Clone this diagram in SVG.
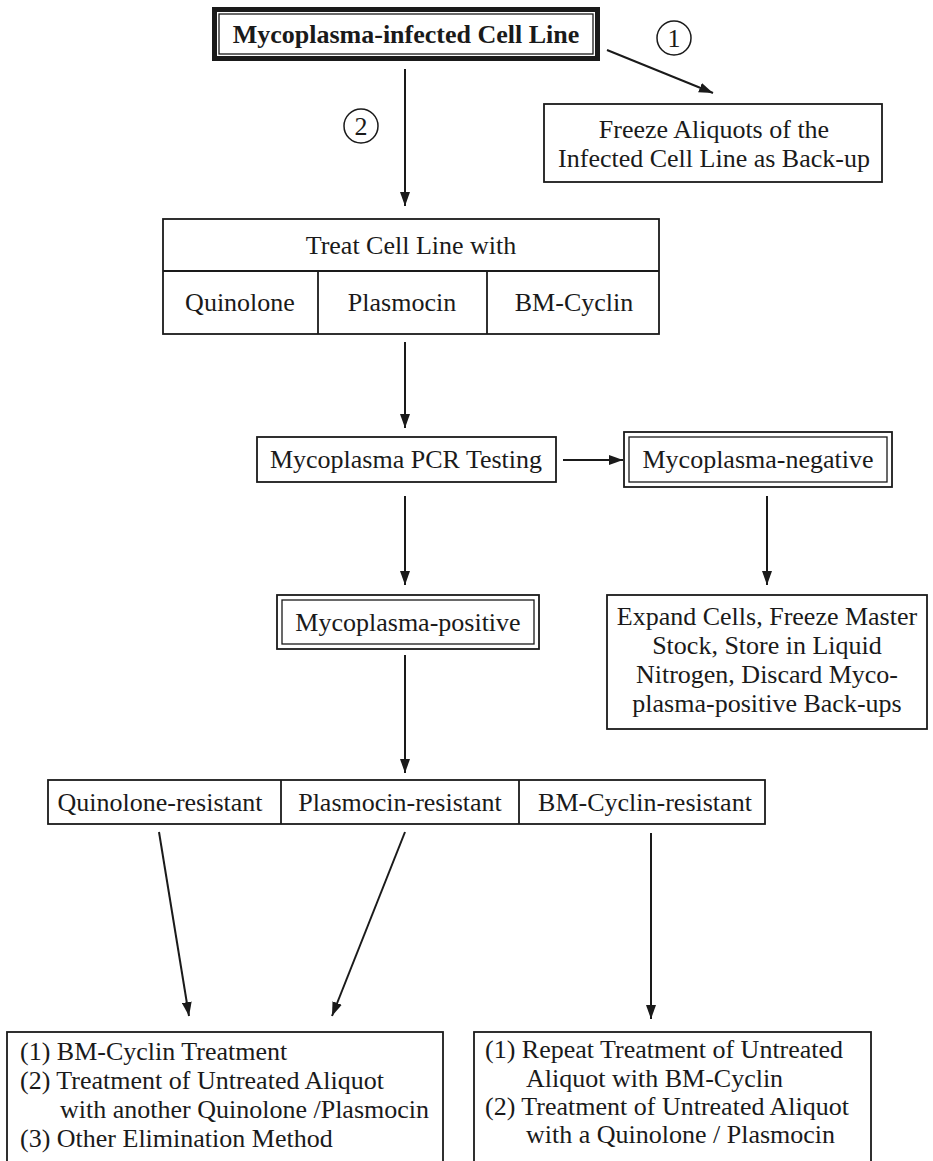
<svg xmlns="http://www.w3.org/2000/svg" width="933" height="1161" viewBox="0 0 933 1161">
<defs>
<marker id="ah" markerUnits="userSpaceOnUse" markerWidth="14" markerHeight="10" refX="14" refY="5" orient="auto">
<path d="M0,0 L14,5 L0,10 z" fill="#1a1a1a"/>
</marker>
<style>
.bx{fill:none;stroke:#1a1a1a;stroke-width:1.8}
.thin{fill:none;stroke:#1a1a1a;stroke-width:1.3}
.thick{fill:none;stroke:#1a1a1a;stroke-width:5}
.t{font-family:"Liberation Serif","Times New Roman",serif;font-size:26px;fill:#1a1a1a}
.c{text-anchor:middle}
.b{font-weight:bold}
.ln{stroke:#1a1a1a;stroke-width:2;fill:none;marker-end:url(#ah)}
.circ{fill:none;stroke:#1a1a1a;stroke-width:1.5}
</style>
</defs>
<rect width="933" height="1161" fill="#ffffff"/>

<g id="connectors">
<line class="ln" x1="607" y1="50" x2="713" y2="93"/>
<line class="ln" x1="405" y1="69" x2="405" y2="206"/>
<line class="ln" x1="405" y1="342" x2="405" y2="428"/>
<line class="ln" x1="563" y1="460" x2="623" y2="460"/>
<line class="ln" x1="405" y1="496" x2="405" y2="585"/>
<line class="ln" x1="767" y1="496" x2="767" y2="585"/>
<line class="ln" x1="405" y1="655" x2="405" y2="773"/>
<line class="ln" x1="159" y1="832" x2="189" y2="1016"/>
<line class="ln" x1="405" y1="832" x2="332" y2="1016"/>
<line class="ln" x1="651" y1="833" x2="651" y2="1019"/>
<g id="label-1">
<circle class="circ" cx="674" cy="38" r="17"/>
<text class="t c" x="674" y="47">1</text>
</g>
<g id="label-2">
<circle class="circ" cx="361" cy="126" r="17"/>
<text class="t c" x="361" y="135">2</text>
</g>
</g>

<g id="n-infected">
<rect class="thick" x="214.5" y="9.5" width="383" height="49"/>
<rect class="thin" x="219" y="14" width="374" height="40"/>
<text class="t c b" x="406" y="43">Mycoplasma-infected Cell Line</text>
</g>

<g id="n-freeze">
<rect class="bx" x="544" y="104" width="338" height="78"/>
<text class="t c" x="714" y="138">Freeze Aliquots of the</text>
<text class="t c" x="714" y="167">Infected Cell Line as Back-up</text>
</g>

<g id="n-treat">
<rect class="bx" x="163" y="219" width="496" height="115"/>
<line class="bx" x1="163" y1="271" x2="659" y2="271"/>
<line class="bx" x1="318" y1="271" x2="318" y2="334"/>
<line class="bx" x1="487" y1="271" x2="487" y2="334"/>
<text class="t c" x="411" y="254">Treat Cell Line with</text>
<text class="t c" x="240" y="311">Quinolone</text>
<text class="t c" x="402" y="311">Plasmocin</text>
<text class="t c" x="574" y="311">BM-Cyclin</text>
</g>

<g id="n-pcr">
<rect class="bx" x="257" y="437" width="299" height="45"/>
<text class="t c" x="406" y="468">Mycoplasma PCR Testing</text>
</g>

<g id="n-negative">
<rect class="bx" x="624" y="432" width="268" height="55"/>
<rect class="thin" x="629" y="437" width="258" height="45"/>
<text class="t c" x="758" y="468">Mycoplasma-negative</text>
</g>

<g id="n-positive">
<rect class="bx" x="277" y="595" width="262" height="54"/>
<rect class="thin" x="282" y="600" width="252" height="44"/>
<text class="t c" x="408" y="631">Mycoplasma-positive</text>
</g>

<g id="n-expand">
<rect class="bx" x="607" y="595" width="320" height="134"/>
<text class="t c" x="767" y="625">Expand Cells, Freeze Master</text>
<text class="t c" x="767" y="654">Stock, Store in Liquid</text>
<text class="t c" x="767" y="683">Nitrogen, Discard Myco-</text>
<text class="t c" x="767" y="712">plasma-positive Back-ups</text>
</g>

<g id="n-resistant">
<rect class="bx" x="48" y="780" width="717" height="44"/>
<line class="bx" x1="281" y1="780" x2="281" y2="824"/>
<line class="bx" x1="519" y1="780" x2="519" y2="824"/>
<text class="t c" x="160" y="811">Quinolone-resistant</text>
<text class="t c" x="400" y="811">Plasmocin-resistant</text>
<text class="t c" x="645" y="811">BM-Cyclin-resistant</text>
</g>

<g id="n-result-left">
<rect class="bx" x="7" y="1032" width="436" height="150"/>
<text class="t" x="20" y="1060">(1) BM-Cyclin Treatment</text>
<text class="t" x="20" y="1089">(2) Treatment of Untreated Aliquot</text>
<text class="t" x="60" y="1118">with another Quinolone /Plasmocin</text>
<text class="t" x="20" y="1147">(3) Other Elimination Method</text>
</g>

<g id="n-result-right">
<rect class="bx" x="474" y="1032" width="397" height="150"/>
<text class="t" x="485" y="1058">(1) Repeat Treatment of Untreated</text>
<text class="t" x="526" y="1087">Aliquot with BM-Cyclin</text>
<text class="t" x="485" y="1115">(2) Treatment of Untreated Aliquot</text>
<text class="t" x="526" y="1143">with a Quinolone / Plasmocin</text>
</g>
</svg>
